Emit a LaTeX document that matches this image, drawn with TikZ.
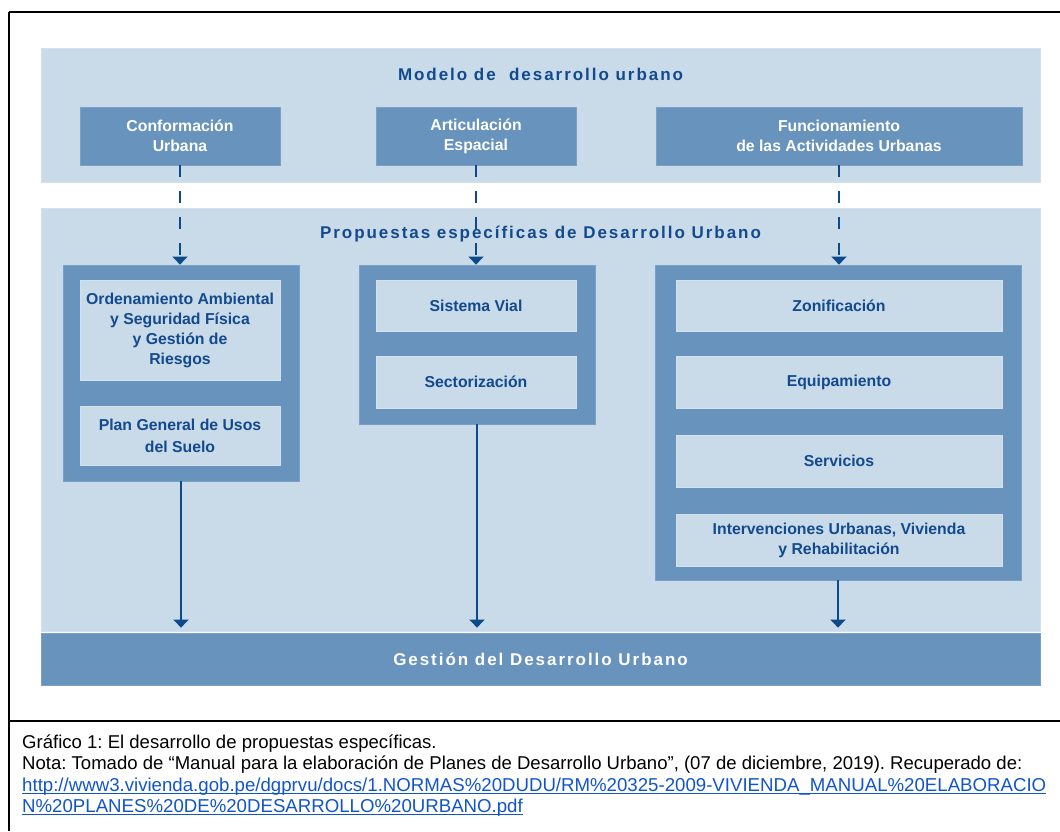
\documentclass[tikz,border=0pt]{standalone}
\usepackage{fontspec}
\setmainfont{Liberation Sans}
\newfontfamily\ttlfont[LetterSpace=11.5]{Liberation Sans}
\usetikzlibrary{arrows.meta}
\frenchspacing
\definecolor{panel}{HTML}{C9DAE8}
\definecolor{panelEdge}{HTML}{D3E1ED}
\definecolor{mid}{HTML}{6893BD}
\definecolor{midEdge}{HTML}{7AA0C6}
\definecolor{dark}{HTML}{134A8E}
\definecolor{arrowc}{HTML}{0D4A8C}
\definecolor{link}{HTML}{1155CC}
\newcommand\myul[1]{\setbox0\hbox{#1}\rlap{\copy0}\rule[-2.6pt]{\wd0}{1.3pt}}
\tikzset{
  panelbox/.style={fill=panel, draw=panelEdge, line width=0.8pt},
  midbox/.style={fill=mid, draw=midEdge, line width=0.8pt, inner sep=0pt, text=white,
     align=center, font=\fontsize{15.8}{20}\selectfont\bfseries},
  innerbox/.style={fill=panel, draw=panelEdge, line width=0.8pt, inner sep=0pt, text=dark,
     align=center, font=\fontsize{15.8}{20}\selectfont\bfseries},
  grp/.style={fill=mid, draw=midEdge, line width=0.8pt, inner sep=0pt},
  titletext/.style={text=dark, font=\ttlfont\fontsize{17}{20}\selectfont\bfseries, inner sep=0pt},
  dasharrow/.style={draw=arrowc, line width=2pt, dash pattern=on 12pt off 14pt,
     -{Triangle[width=15pt,length=8pt]}},
  solidarrow/.style={draw=arrowc, line width=2pt, -{Triangle[width=15pt,length=8pt]}, shorten >=5pt},
  frameline/.style={draw=black, line width=2.8pt},
  captext/.style={anchor=base west, inner sep=0pt, font=\fontsize{18.55}{21.6}\selectfont},
  linktext/.style={anchor=base west, inner sep=0pt, text=link, font=\fontsize{18.65}{21.6}\selectfont}
}
\begin{document}
\begin{tikzpicture}[x=1pt,y=-1pt]
\useasboundingbox (0,0) rectangle (1060,831);
\fill[white] (0,0) rectangle (1060,831);
% frame
\draw[frameline] (9,12) -- (1060,12);
\draw[frameline] (9,12) -- (9,831);
\draw[frameline] (9,721) -- (1060,721);
% panels
\filldraw[panelbox] (41,48) rectangle (1040,182);
\filldraw[panelbox] (41,208) rectangle (1040,631.5);
\node[fill=mid, draw=midEdge, line width=0.8pt, minimum width=999pt, minimum height=52pt, inner sep=0pt,
  text=white, font=\ttlfont\fontsize{17}{20}\selectfont\bfseries] (gest) at (540.5,659) {Gestión del Desarrollo Urbano};
% titles
\node[titletext] (t1) at (540.5,74) {Modelo de\ \ desarrollo urbano};
\node[titletext] (t2) at (540.5,234) {Propuestas específicas de Desarrollo Urbano};
% top boxes
\node[midbox, minimum width=200pt, minimum height=58pt] (conf) at (180,136) {Conformación\\Urbana};
\node[midbox, minimum width=200pt, minimum height=58pt] (art) at (476,136) {Articulación\\Espacial};
\node[midbox, minimum width=366pt, minimum height=58pt] (fun) at (839,136) {Funcionamiento\\de las Actividades Urbanas};
% groups
\node[grp, minimum width=236pt, minimum height=216pt] (gL) at (181,373) {};
\node[grp, minimum width=236pt, minimum height=159pt] (gM) at (477,344.5) {};
\node[grp, minimum width=366pt, minimum height=315pt] (gR) at (838,422.5) {};
% inner boxes
\node[innerbox, minimum width=200pt, minimum height=100pt] (L1) at (180,330) {Ordenamiento Ambiental\\y Seguridad Física\\y Gestión de\\Riesgos};
\node[innerbox, minimum width=200pt, minimum height=59pt] (L2) at (180,435.5) {Plan General de Usos\\[2pt]del Suelo};
\node[innerbox, minimum width=200pt, minimum height=51pt] (M1) at (476,305.5) {Sistema Vial};
\node[innerbox, minimum width=200pt, minimum height=52pt] (M2) at (476,382) {Sectorización};
\node[innerbox, minimum width=326pt, minimum height=51pt] (R1) at (839,305.5) {Zonificación};
\node[innerbox, minimum width=326pt, minimum height=52pt] (R2) at (839,382) {Equipamiento};
\node[innerbox, minimum width=326pt, minimum height=52pt] (R3) at (839,461) {Servicios};
\node[innerbox, minimum width=326pt, minimum height=52pt] (R4) at (839,540) {Intervenciones Urbanas, Vivienda\\y Rehabilitación};
% connectors
\draw[dasharrow] (conf.south) -- (conf.south |- gL.north);
\draw[dasharrow] (art.south) -- (art.south |- gM.north);
\draw[dasharrow] (fun.south) -- (fun.south |- gR.north);
\draw[solidarrow] (gL.south) -- (gL.south |- gest.north);
\draw[solidarrow] (gM.south) -- (gM.south |- gest.north);
\draw[solidarrow] (gR.south) -- (gR.south |- gest.north);
% caption
\node[captext] (c1) at (22,748) {Gráfico 1: El desarrollo de propuestas específicas.};
\node[captext] (c2) at (22,769.6) {Nota: Tomado de “Manual para la elaboración de Planes de Desarrollo Urbano”, (07 de diciembre, 2019). Recuperado de:};
\node[linktext] (c3) at (22,791.2) {\myul{http://www3.vivienda.gob.pe/dgprvu/docs/1.NORMAS\%20DUDU/RM\%20325-2009-VIVIENDA\_MANUAL\%20ELABORACIO}};
\node[linktext] (c4) at (22,812.8) {\myul{N\%20PLANES\%20DE\%20DESARROLLO\%20URBANO.pdf}};
\end{tikzpicture}
\end{document}
